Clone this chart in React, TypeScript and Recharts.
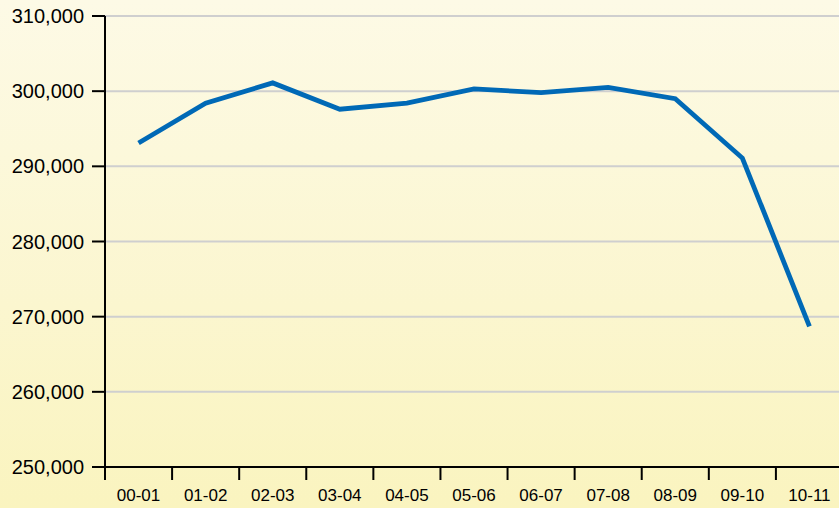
import { LineChart, Line, XAxis, YAxis, CartesianGrid } from 'recharts';

const YEARS = ['00-01', '01-02', '02-03', '03-04', '04-05', '05-06', '06-07', '07-08', '08-09', '09-10', '10-11'];
const VALUES = [293100, 298400, 301100, 297600, 298400, 300300, 299800, 300500, 299000, 291100, 268700];
const Y_TICKS = [250000, 260000, 270000, 280000, 290000, 300000, 310000];

// points sit in the middle of each year band, ticks on the band edges
const data = YEARS.map((year, i) => ({ x: i + 0.5, year, value: VALUES[i] }));
const xTicks: number[] = [];
for (let i = 0; i <= YEARS.length * 2; i++) xTicks.push(i / 2);

const FONT = '"Liberation Sans", Arial, Helvetica, sans-serif';

function YearTick(props: any) {
  const { x, y, payload } = props;
  const v = payload.value as number;
  if (Number.isInteger(v)) {
    return <line x1={x} x2={x} y1={y} y2={y + 13} stroke="#000" strokeWidth={2} />;
  }
  return (
    <text x={x} y={y + 34} textAnchor="middle" fill="#000" fontSize={17} fontFamily={FONT}>
      {YEARS[Math.floor(v)]}
    </text>
  );
}

export default function App() {
  return (
    <div
      style={{
        position: 'absolute',
        left: 0,
        top: 0,
        width: 839,
        height: 508,
        overflow: 'hidden',
        background: 'linear-gradient(to bottom, #fdfae6 0%, #fbf6cf 60%, #faf4bf 100%)',
        fontFamily: FONT,
      }}
    >
      {/* the last year band runs a little past the right edge, as in the original */}
      <LineChart width={843} height={508} data={data} margin={{ top: 16, right: 0, bottom: 0, left: 0 }}>
        <CartesianGrid vertical={false} stroke="#cfcfcf" strokeWidth={2} />
        <XAxis
          dataKey="x"
          type="number"
          domain={[0, YEARS.length]}
          ticks={xTicks}
          interval={0}
          tickLine={false}
          tickSize={0}
          tickMargin={0}
          height={41}
          axisLine={{ stroke: '#000', strokeWidth: 2 }}
          tick={<YearTick />}
        />
        <YAxis
          domain={[250000, 310000]}
          ticks={Y_TICKS}
          interval={0}
          width={105}
          tickSize={13}
          tickMargin={8}
          axisLine={{ stroke: '#000', strokeWidth: 2 }}
          tickLine={{ stroke: '#000', strokeWidth: 2 }}
          tick={{ fill: '#000', fontSize: 20, fontFamily: FONT }}
          tickFormatter={(v: number) => v.toLocaleString('en-US')}
        />
        <Line
          type="linear"
          dataKey="value"
          stroke="#0069b6"
          strokeWidth={4.8}
          dot={false}
          activeDot={false}
          isAnimationActive={false}
        />
      </LineChart>
    </div>
  );
}
